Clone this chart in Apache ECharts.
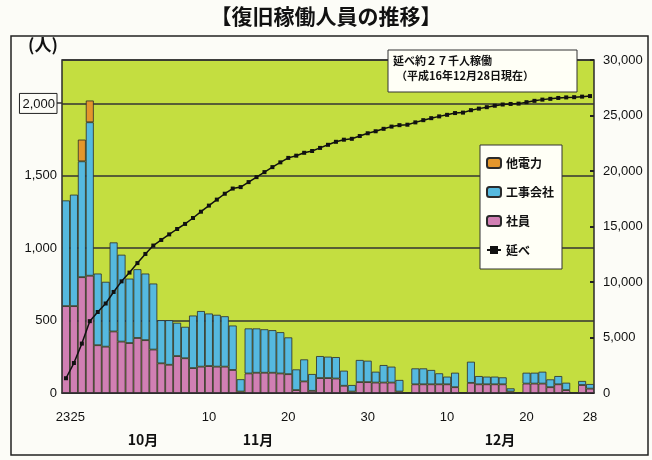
<!DOCTYPE html>
<html>
<head>
<meta charset="utf-8">
<script src="https://cdn.jsdelivr.net/npm/echarts@6/dist/echarts.min.js"></script>
<style>
html,body{margin:0;padding:0;background:#fcfcf7;}
#c{width:652px;height:460px;}
</style>
</head>
<body>
<div id="c"></div>
<script>
const categories = ['10/23','10/24','10/25','10/26','10/27','10/28','10/29','10/30','10/31',
'11/1','11/2','11/3','11/4','11/5','11/6','11/7','11/8','11/9','11/10','11/11','11/12','11/13','11/14','11/15','11/16','11/17','11/18','11/19','11/20','11/21','11/22','11/23','11/24','11/25','11/26','11/27','11/28','11/29','11/30',
'12/1','12/2','12/3','12/4','12/5','12/6','12/7','12/8','12/9','12/10','12/11','12/12','12/13','12/14','12/15','12/16','12/17','12/18','12/19','12/20','12/21','12/22','12/23','12/24','12/25','12/26','12/27','12/28'];

const tickLabels = ['10/23','10/25','11/10','11/20','11/30','12/10','12/20','12/28'];

// 社員
const shain = [600,600,800,810,330,320,425,355,345,
380,365,300,205,195,255,240,172,182,186,182,182,159,10,135,140,140,140,135,130,20,80,15,103,103,100,50,10,75,
75,72,72,72,10,null,60,60,60,60,60,40,null,70,60,60,60,60,10,null,65,65,65,40,60,20,null,55,30];
// 工事会社
const kojiGaisha = [730,770,800,1060,495,448,615,600,445,
475,460,456,298,308,230,217,363,384,363,358,348,307,85,311,306,300,294,285,254,143,152,116,152,148,148,104,45,153,
148,75,121,110,80,null,110,110,99,76,53,100,null,146,57,53,53,48,22,null,75,75,82,54,57,51,null,28,32];
// 他電力
const taDenryoku = [null,null,150,150,null,null,null,null,null,
null,null,null,null,null,null,null,null,null,null,null,null,null,null,null,null,null,null,null,null,null,null,null,null,null,null,null,null,null,
null,null,null,null,null,null,null,null,null,null,null,null,null,null,null,null,null,null,null,null,null,null,null,null,null,null,null,null,null];
// 延べ (cumulative)
const nobe = [1330,2700,4450,6470,7295,8063,9103,10058,10848,
11703,12528,13284,13787,14290,14775,15232,15767,16333,16882,17422,17952,18418,18550,19000,19450,19900,20350,20780,21180,21380,21640,21800,22080,22360,22630,22820,22900,23150,
23400,23580,23800,24000,24130,24170,24380,24580,24760,24920,25060,25220,25260,25480,25620,25750,25880,25990,26040,26070,26200,26320,26430,26500,26580,26630,26650,26700,26750];

const leftTicks = [0,500,1000,1500,2000];
const monthLabels = [{t:'10月',x:143},{t:'11月',x:258},{t:'12月',x:500}];

const numFont = "'Liberation Sans Narrow','Liberation Sans',sans-serif";
const jpFont = "'Noto Sans CJK JP',sans-serif";
const border = '#2b2b2b';

const chart = echarts.init(document.getElementById('c'), null, {renderer:'canvas'});

const graphics = [
  {type:'rect', shape:{x:11,y:36,width:637,height:419}, style:{fill:'none',stroke:'#222',lineWidth:1.5}, z:0},
  {type:'text', left:'center', top:6, style:{text:'【復旧稼働人員の推移】', font:"bold 21px "+jpFont, fill:'#111'}},
  {type:'text', x:28, y:36, style:{text:'(人)', font:"bold 17px "+jpFont, fill:'#111'}},
  {type:'rect', shape:{x:388,y:50,width:189,height:42}, style:{fill:'#fffff6',stroke:'#333',lineWidth:1}, z:20},
  {type:'text', x:393, y:55, z:21, style:{text:'延べ約２７千人稼働', font:"bold 11px "+jpFont, fill:'#111'}},
  {type:'text', x:396, y:70, z:21, style:{text:'（平成16年12月28日現在）', font:"bold 11px "+jpFont, fill:'#111'}},
  {type:'line', shape:{x1:57,y1:103,x2:62,y2:103}, style:{stroke:'#333',lineWidth:1.5}}
];
monthLabels.forEach(m => graphics.push({type:'text', x:m.x, y:433, style:{text:m.t, font:"bold 14px "+jpFont, fill:'#111', align:'center'}}));

chart.setOption({
  animation:false,
  backgroundColor:'#fcfcf7',
  grid:{left:62, right:58, top:60, bottom:67, show:true, backgroundColor:'#c4de40', borderColor:border, borderWidth:1.5},
  legend:{
    orient:'vertical', left:480, top:145, width:86,
    data:['他電力','工事会社','社員','延べ'],
    backgroundColor:'#fffff6', borderColor:'#333', borderWidth:1,
    padding:[11,8,12,6], itemGap:15, itemWidth:14, itemHeight:10,
    textStyle:{fontFamily:jpFont, fontSize:12, fontWeight:'bold', color:'#111', lineHeight:14}
  },
  xAxis:{
    type:'category', data:categories, boundaryGap:true,
    axisLine:{show:true, lineStyle:{color:border, width:1.5}},
    axisTick:{show:false},
    axisLabel:{
      interval:0, margin:18, color:'#111', fontFamily:numFont, fontSize:13,
      formatter:function(v){
        if(tickLabels.indexOf(v) < 0) return '';
        const d = v.split('/')[1];
        if(v==='10/23') return '{a|'+d+'}';
        if(v==='10/25') return '{b|'+d+'}';
        return d;
      },
      rich:{
        a:{fontFamily:numFont, fontSize:13, color:'#111', padding:[0,6,0,0]},
        b:{fontFamily:numFont, fontSize:13, color:'#111', padding:[0,8,0,0]}
      }
    },
    splitLine:{show:false}
  },
  yAxis:[{
    type:'value', min:0, max:2300, interval:500, position:'left',
    axisLine:{show:false}, axisTick:{show:false},
    axisLabel:{
      margin:5, color:'#111', fontFamily:numFont, fontSize:13,
      formatter:function(v){
        if(leftTicks.indexOf(v) < 0) return '';
        const s = v.toLocaleString('en-US');
        return v===2000 ? '{box|'+s+'}' : s;
      },
      rich:{box:{fontFamily:numFont, fontSize:13, color:'#111', borderColor:'#222', borderWidth:1, padding:[4,2,3,3]}}
    },
    splitLine:{show:true, lineStyle:{color:'#333', width:1.5}}
  },{
    type:'value', min:0, max:30000, interval:5000, position:'right',
    axisLine:{show:false},
    axisTick:{show:true, inside:true, length:4, lineStyle:{color:'#222', width:2}},
    axisLabel:{margin:9, color:'#111', fontFamily:numFont, fontSize:13,
      formatter:function(v){return v.toLocaleString('en-US');}},
    splitLine:{show:false}
  }],
  series:[
    {name:'社員', type:'bar', stack:'p', data:shain, barWidth:'100%', barCategoryGap:'0%',
      itemStyle:{color:'#d17fb3', borderColor:border, borderWidth:0.8}},
    {name:'工事会社', type:'bar', stack:'p', data:kojiGaisha, barWidth:'100%',
      itemStyle:{color:'#55b9df', borderColor:border, borderWidth:0.8}},
    {name:'他電力', type:'bar', stack:'p', data:taDenryoku, barWidth:'100%',
      itemStyle:{color:'#e3962c', borderColor:border, borderWidth:0.8}},
    {name:'延べ', type:'line', yAxisIndex:1, data:nobe, symbol:'rect', symbolSize:4,
      lineStyle:{color:'#111', width:1.5}, itemStyle:{color:'#111'}, z:10}
  ],
  graphic:graphics
});
</script>
</body>
</html>
